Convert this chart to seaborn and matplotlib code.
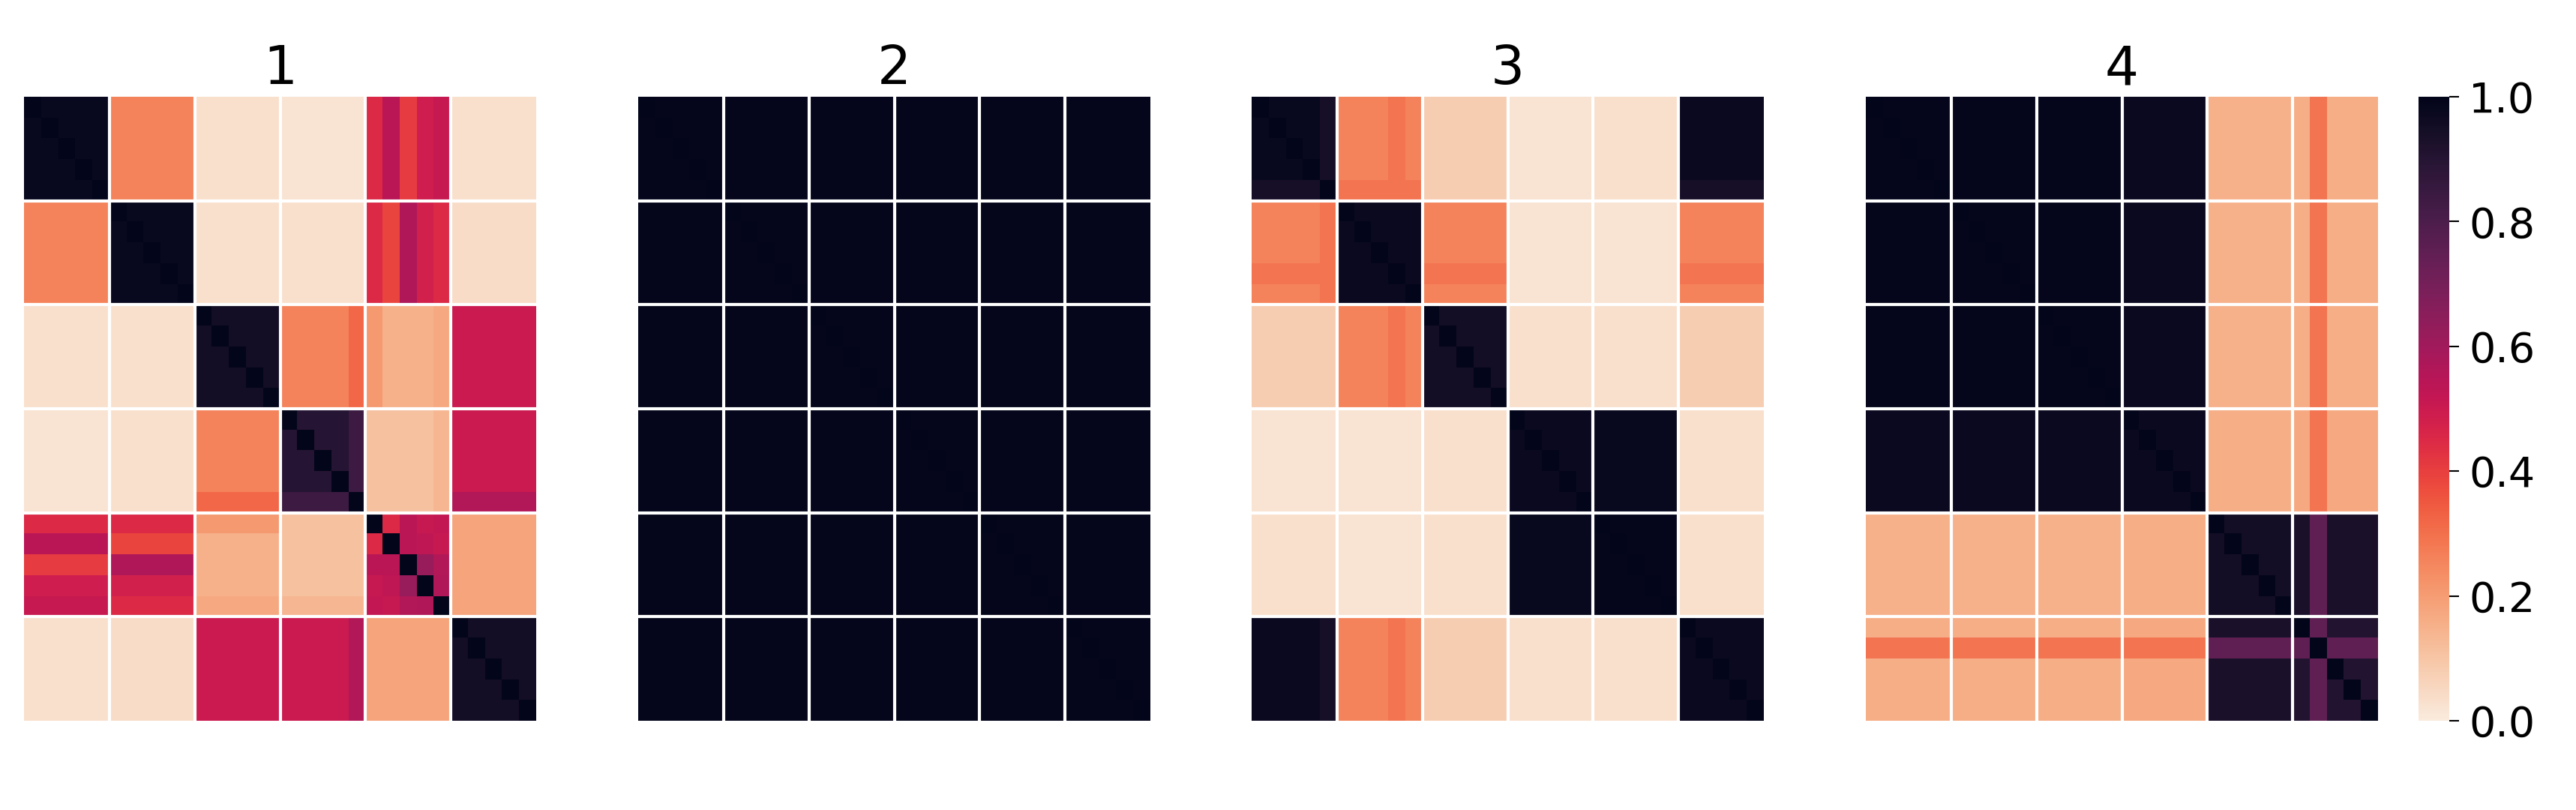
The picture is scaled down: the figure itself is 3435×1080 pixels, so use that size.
import numpy as np
import matplotlib
matplotlib.use("Agg")
import matplotlib.pyplot as plt
import seaborn as sns

titles = ["1", "2", "3", "4"]
group_size = 5
cbar_ticks = [0.0, 0.2, 0.4, 0.6, 0.8, 1.0]

# block level values (6x6 groups of 5x5 cells)
blocks_1 = [
    [0.98, 0.26, 0.03, 0.02, 0.48, 0.03],
    [0.26, 0.98, 0.03, 0.03, 0.48, 0.04],
    [0.03, 0.03, 0.95, 0.26, 0.15, 0.50],
    [0.02, 0.03, 0.26, 0.90, 0.11, 0.50],
    [0.48, 0.48, 0.15, 0.11, 0.95, 0.18],
    [0.03, 0.04, 0.50, 0.50, 0.18, 0.95],
]
blocks_2 = [[0.99] * 6 for _ in range(6)]
blocks_3 = [
    [0.98, 0.26, 0.08, 0.02, 0.03, 0.97],
    [0.26, 0.97, 0.26, 0.02, 0.02, 0.26],
    [0.08, 0.26, 0.95, 0.03, 0.03, 0.08],
    [0.02, 0.02, 0.03, 0.97, 0.98, 0.03],
    [0.03, 0.02, 0.03, 0.98, 0.99, 0.03],
    [0.97, 0.26, 0.08, 0.03, 0.03, 0.97],
]
blocks_4 = [
    [0.99, 0.99, 0.99, 0.97, 0.15, 0.16],
    [0.99, 0.99, 0.99, 0.97, 0.15, 0.16],
    [0.99, 0.99, 0.99, 0.97, 0.15, 0.16],
    [0.97, 0.97, 0.97, 0.97, 0.16, 0.17],
    [0.15, 0.15, 0.15, 0.16, 0.95, 0.93],
    [0.16, 0.16, 0.16, 0.17, 0.93, 0.91],
]

# single columns (and matching rows) that stand out, one value per block row
stripes_1 = {
    19: [None, None, 0.32, 0.84, None, 0.56],
    20: [0.45, 0.45, 0.21, None, None, None],
    21: [0.54, 0.39, None, None, None, None],
    22: [0.41, 0.57, None, None, None, None],
    23: [0.49, 0.48, None, None, None, None],
    24: [0.51, 0.45, 0.17, 0.14, None, None],
}
stripes_3 = {
    4: [0.94, 0.29, None, None, None, 0.94],
    8: [0.29, None, 0.29, None, None, 0.29],
}
stripes_4 = {
    26: [0.29, 0.29, 0.29, 0.29, 0.75, 0.75],
}
# cell detail of panel 1, block (4, 4)
inner_1 = [
    [1.00, 0.45, 0.54, 0.51, 0.52],
    [0.45, 1.00, 0.54, 0.53, 0.51],
    [0.54, 0.54, 1.00, 0.62, 0.56],
    [0.51, 0.53, 0.62, 1.00, 0.57],
    [0.52, 0.51, 0.56, 0.57, 1.00],
]


def build(blocks, stripes=None, inner=None):
    m = np.kron(np.array(blocks), np.ones((group_size, group_size)))
    for col, vals in (stripes or {}).items():
        for b, v in enumerate(vals):
            if v is None:
                continue
            sl = slice(b * group_size, (b + 1) * group_size)
            m[sl, col] = v
            m[col, sl] = v
    if inner is not None:
        for (bi, bj), sub in inner.items():
            m[bi * 5:bi * 5 + 5, bj * 5:bj * 5 + 5] = np.array(sub)
    np.fill_diagonal(m, 1.0)
    return m


mats = [
    build(blocks_1, stripes_1, {(4, 4): inner_1}),
    build(blocks_2),
    build(blocks_3, stripes_3),
    build(blocks_4, stripes_4),
]

sns.set_style("white")
plt.rcParams["text.color"] = "black"
plt.rcParams["ytick.color"] = "black"
plt.rcParams["ytick.labelcolor"] = "black"
fig = plt.figure(figsize=(34.35, 10.8), dpi=100)

lefts = [32, 851, 1669, 2488]
W, H = 3435, 1080
ax_w, ax_top, ax_bot = 683, 129, 961
cax = fig.add_axes([3225 / W, 1 - ax_bot / H, 41 / W, (ax_bot - ax_top) / H])

for i, (m, t) in enumerate(zip(mats, titles)):
    ax = fig.add_axes([lefts[i] / W, 1 - ax_bot / H, ax_w / W, (ax_bot - ax_top) / H])
    last = i == len(mats) - 1
    sns.heatmap(m, ax=ax, cmap="rocket_r", vmin=0, vmax=1,
                xticklabels=False, yticklabels=False,
                cbar=last, cbar_ax=cax if last else None)
    n = m.shape[0]
    for k in range(group_size, n, group_size):
        ax.axhline(k, color="white", lw=3)
        ax.axvline(k, color="white", lw=3)
    ax.set_title(t, fontsize=51, pad=12, color="black")

cax.set_yticks(cbar_ticks)
cax.tick_params(labelsize=40, length=9, width=1.5, pad=10, colors="black")

fig.savefig("out.png", dpi=100)
